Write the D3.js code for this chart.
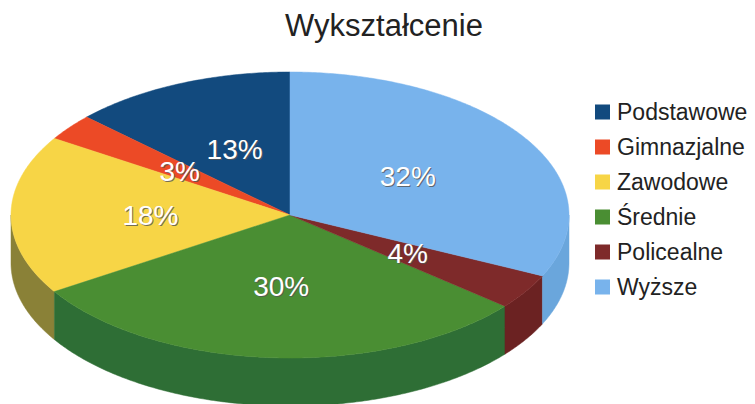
<!DOCTYPE html>
<html>
<head>
<meta charset="utf-8">
<script src="https://cdn.jsdelivr.net/npm/d3@7"></script>
<style>
  body { margin: 0; background: #fff; }
  text { font-family: "Liberation Sans", Arial, sans-serif; }
</style>
</head>
<body>
<svg id="chart" width="755" height="404"></svg>
<script>
// Data
var categories = ['Podstawowe', 'Gimnazjalne', 'Zawodowe', 'Średnie', 'Policealne', 'Wyższe'],
    values = [13, 3, 18, 30, 4, 32],
    colors = ['#124a7e', '#ec4a26', '#f7d546', '#4a8e33', '#7e2a2a', '#78b3ec'],
    wallColors = ['#0e3a63', '#a8361c', '#8a8137', '#2e6e35', '#6b2222', '#6aa6dc'],
    title = 'Wykształcenie'

var svg = d3.select('#chart')

let cx = 290, cy = 215,
    rx = 279, ry = 143,
    depth = 48

// angles: 0 at 12 o'clock, negative = counter-clockwise on screen
var pie = d3.pie().sort(null).startAngle(0).endAngle(-2 * Math.PI)
var arcs = pie(values).map((d, i) => Object.assign(d, { i: i }))

function pt(a, dy) {
    return [cx + rx * Math.sin(a), cy - ry * Math.cos(a) + (dy || 0)]
}

function arcPoints(a0, a1, dy) {
    let n = Math.max(2, Math.ceil(Math.abs(a1 - a0) / 0.01))
    return d3.range(n + 1).map(k => pt(a0 + (a1 - a0) * k / n, dy))
}

var line = d3.line()

// Side walls (front half only: angles between -3π/2 and -π/2)
var walls = svg.append('g').attr('id', 'walls')
arcs.forEach(d => {
    let a0 = Math.min(d.startAngle, -Math.PI / 2),
        a1 = Math.max(d.endAngle, -3 * Math.PI / 2)
    if (a1 >= a0) return
    let top = arcPoints(a0, a1, 0),
        bottom = arcPoints(a1, a0, depth)
    walls.append('path')
        .attr('d', line(top.concat(bottom)) + 'Z')
        .attr('fill', wallColors[d.i])
        .attr('stroke', wallColors[d.i])
        .attr('stroke-width', 0.5)
})

// Top faces
svg.append('g')
    .attr('id', 'slices')
    .selectAll('path')
    .data(arcs)
    .enter()
    .append('path')
    .attr('d', d => line([[cx, cy]].concat(arcPoints(d.startAngle, d.endAngle, 0))) + 'Z')
    .attr('fill', d => colors[d.i])
    .attr('stroke', d => colors[d.i])
    .attr('stroke-width', 0.5)

// Percentage labels
var labels = svg.append('g').attr('id', 'labels')
arcs.forEach(d => {
    let mid = (d.startAngle + d.endAngle) / 2,
        x = cx + 0.5 * rx * Math.sin(mid),
        y = cy - 0.5 * ry * Math.cos(mid)
    labels.append('text')
        .attr('x', x + 1).attr('y', y + 1)
        .attr('text-anchor', 'middle')
        .attr('dominant-baseline', 'central')
        .attr('font-size', 28)
        .attr('fill', '#555')
        .attr('opacity', 0.8)
        .text(d.data + '%')
    labels.append('text')
        .attr('x', x).attr('y', y)
        .attr('text-anchor', 'middle')
        .attr('dominant-baseline', 'central')
        .attr('font-size', 28)
        .attr('fill', '#fff')
        .text(d.data + '%')
})

// Title
svg.append('text')
    .attr('x', 384)
    .attr('y', 36)
    .attr('text-anchor', 'middle')
    .attr('font-size', 31)
    .attr('fill', '#222')
    .text(title)

// Legend
var legend = svg.append('g')
    .attr('id', 'legend')
    .attr('transform', 'translate(595,112)')
    .selectAll('g')
    .data(categories)
    .enter()
    .append('g')
    .attr('transform', (d, i) => `translate(0,${i * 35})`)

legend.append('rect')
    .attr('x', 0).attr('y', -7.5)
    .attr('width', 15).attr('height', 15)
    .attr('fill', (d, i) => colors[i])

legend.append('text')
    .attr('x', 22)
    .attr('y', 0)
    .attr('dominant-baseline', 'central')
    .attr('font-size', 23)
    .attr('fill', '#222')
    .text(d => d)
</script>
</body>
</html>
